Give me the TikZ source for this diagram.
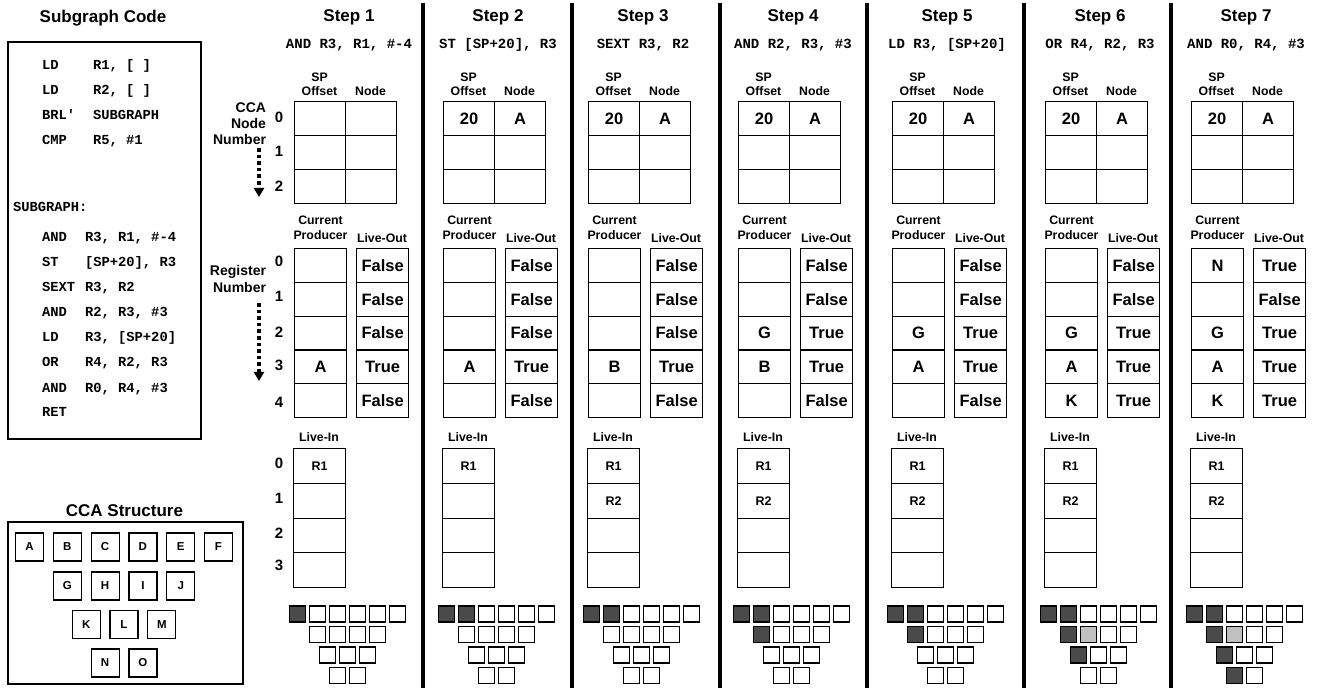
\documentclass[tikz,border=0pt]{standalone}
\usepackage{fontspec}
\setmainfont{Liberation Sans}
\setmonofont{Liberation Mono}
\usetikzlibrary{arrows.meta}
\definecolor{mdark}{HTML}{4A4A4A}
\definecolor{mlight}{HTML}{C0C0C0}
\newcommand\fsz[1]{\fontsize{#1}{#1}\selectfont}
\newcommand\setmc[2]{\expandafter\def\csname mc-#1\endcsname{#2}}
% coloured squares of the mini CCA grids: step-row-k
\setmc{1-0-1}{mdark}
\setmc{2-0-1}{mdark}\setmc{2-0-2}{mdark}
\setmc{3-0-1}{mdark}\setmc{3-0-2}{mdark}
\setmc{4-0-1}{mdark}\setmc{4-0-2}{mdark}\setmc{4-1-1}{mdark}
\setmc{5-0-1}{mdark}\setmc{5-0-2}{mdark}\setmc{5-1-1}{mdark}
\setmc{6-0-1}{mdark}\setmc{6-0-2}{mdark}\setmc{6-1-1}{mdark}\setmc{6-1-2}{mlight}\setmc{6-2-1}{mdark}
\setmc{7-0-1}{mdark}\setmc{7-0-2}{mdark}\setmc{7-1-1}{mdark}\setmc{7-1-2}{mlight}\setmc{7-2-1}{mdark}\setmc{7-3-1}{mdark}
\tikzset{
  txt/.style={inner sep=0pt, outer sep=0pt},
  steptitle/.style={txt, anchor=base, font=\fsz{17}\bfseries},
  ptitle/.style={txt, anchor=base, font=\fsz{17}\bfseries},
  instr/.style={txt, anchor=base, font=\fsz{14}\ttfamily\bfseries},
  code/.style={txt, anchor=base west, font=\fsz{13.8}\ttfamily\bfseries},
  hdr/.style={txt, anchor=base, font=\fsz{12.3}\bfseries},
  lbl/.style={txt, anchor=base east, font=\fsz{14}\bfseries},
  rnum/.style={txt, anchor=base, font=\fsz{15}\bfseries},
  cell/.style={draw, line width=1.2pt, minimum width=51pt, minimum height=34pt, inner sep=0pt, anchor=north west, font=\fsz{16.5}\bfseries},
  licell/.style={cell, minimum width=52pt, minimum height=34.75pt, font=\fsz{12.5}\bfseries},
  mini/.style={draw, line width=1.3pt, minimum size=16pt, inner sep=0pt},
  pbox/.style={draw, line width=1.8pt, inner sep=0pt, anchor=north west},
  ccasq/.style={draw, line width=1.2pt, minimum size=28pt, inner sep=0pt, font=\fsz{11.5}\bfseries},
  sep/.style={line width=4pt},
  dotarrow/.style={line width=3.6pt, dash pattern=on 3.6pt off 3pt, -{Triangle[width=10pt,length=9pt]}},
}
% #1 step, #2 centre x, #3 instruction, #4/#5 SP row 0, #6 producers, #7 live-out, #8 live-in row 1
\newcommand\drawstep[8]{%
  \node[steptitle] (title#1) at (#2,22) {Step #1};
  \node[instr] (instr#1) at (#2,49) {#3};
  \node[hdr] (hsp#1) at (#2-29.5,82) {SP};
  \node[hdr] (hoff#1) at (#2-29.5,96) {Offset};
  \node[hdr] (hnode#1) at (#2+21.5,96) {Node};
  \foreach \r in {0,1,2}{%
    \node[cell] (spa#1-\r) at (#2-55,101+34*\r) {\ifnum\r=0 #4\fi};
    \node[cell] (spb#1-\r) at (#2-4,101+34*\r) {\ifnum\r=0 #5\fi};
  }%
  \node[hdr] (hcur#1) at (#2-28.5,225) {Current};
  \node[hdr] (hprod#1) at (#2-28.5,240) {Producer};
  \node[hdr] (hlo#1) at (#2+33,243) {Live-Out};
  \foreach \v [count=\r from 0] in {#6}{%
    \node[cell, minimum width=52pt, minimum height=33.8pt] (cp#1-\r) at (#2-55,248+33.8*\r) {\v};}%
  \foreach \v [count=\r from 0] in {#7}{%
    \node[cell, minimum width=52pt, minimum height=33.8pt] (lo#1-\r) at (#2+7,248+33.8*\r) {\v};}%
  \node[hdr] (hli#1) at (#2-30,442) {Live-In};
  \foreach \r/\t in {0/R1,1/{#8},2/{},3/{}}{%
    \node[licell] (li#1-\r) at (#2-56,448+34.75*\r) {\t};}%
  \foreach \rr/\nn/\yy in {0/6/614,1/4/634.5,2/3/655,3/2/675.5}{%
    \foreach \kk in {1,...,\nn}{%
      \def\mcol{white}%
      \ifcsname mc-#1-\rr-\kk\endcsname\edef\mcol{\csname mc-#1-\rr-\kk\endcsname}\fi
      \node[mini, fill=\mcol] (m#1-\rr-\kk) at ({#2-1.5-10*(\nn-1)+20*(\kk-1)},\yy) {};
    }%
  }%
}
\begin{document}
\begin{tikzpicture}[x=1pt,y=-1pt]
\useasboundingbox (0,0) rectangle (1320,692);
% ---------- Subgraph code panel
\node[ptitle] (sgtitle) at (103,23) {Subgraph Code};
\node[pbox, minimum width=193pt, minimum height=397pt] (codebox) at (7,41) {};
\foreach \y/\m/\o in {70/LD/{R1, [ ]},95/LD/{R2, [ ]},120/BRL'/SUBGRAPH,145/CMP/{R5, \#1}}{%
  \node[code] (cm\y) at (42,\y) {\m};
  \node[code] (co\y) at (93,\y) {\o};}
\node[code] (sublabel) at (13,212) {SUBGRAPH:};
\foreach \y/\m/\o in {242/AND/{R3, R1, \#-4},267/ST/{[SP+20], R3},292/SEXT/{R3, R2},317/AND/{R2, R3, \#3},342/LD/{R3, [SP+20]},367/OR/{R4, R2, R3},392/AND/{R0, R4, \#3},417/RET/{}}{%
  \node[code] (cm\y) at (42,\y) {\m};
  \node[code] (co\y) at (85,\y) {\o};}
% ---------- CCA structure panel
\node[ptitle] (ccatitle) at (124.5,516) {CCA Structure};
\node[pbox, minimum width=235pt, minimum height=162pt] (ccabox) at (7,521) {};
\foreach \l [count=\k from 0] in {A,B,C,D,E,F} \node[ccasq] (cca\l) at (124+37.8*\k-94.5,547) {\l};
\foreach \l [count=\k from 0] in {G,H,I,J} \node[ccasq] (cca\l) at (124+37.8*\k-56.7,586) {\l};
\foreach \l [count=\k from 0] in {K,L,M} \node[ccasq] (cca\l) at (124+37.8*\k-37.8,624.5) {\l};
\foreach \l [count=\k from 0] in {N,O} \node[ccasq] (cca\l) at (124+37.8*\k-18.9,663) {\l};
% ---------- row labels
\node[lbl] (lcca) at (266,113) {CCA};
\node[lbl] (lnode) at (266,129) {Node};
\node[lbl] (lnum1) at (266,145) {Number};
\node[lbl] (lreg) at (266,276) {Register};
\node[lbl] (lnum2) at (266,293) {Number};
\foreach \t/\y in {0/123,1/157,2/192} \node[rnum] (ns\t) at (279,\y) {\t};
\foreach \t/\y in {0/267,1/302,2/338,3/371,4/407} \node[rnum] (nr\t) at (279,\y) {\t};
\foreach \t/\y in {0/468,1/503,2/538,3/570} \node[rnum] (nl\t) at (279,\y) {\t};
\coordinate (sa) at (259,148); \coordinate (sb) at (259,197);
\coordinate (ra) at (259,303); \coordinate (rb) at (259,381);
\draw[dotarrow] (sa) -- (sb);
\draw[dotarrow] (ra) -- (rb);
% ---------- steps
\drawstep{1}{349}{AND R3, R1, \#-4}{}{}{{},{},{},A,{}}{False,False,False,True,False}{}
\drawstep{2}{498}{ST [SP+20], R3}{20}{A}{{},{},{},A,{}}{False,False,False,True,False}{}
\drawstep{3}{643}{SEXT R3, R2}{20}{A}{{},{},{},B,{}}{False,False,False,True,False}{R2}
\drawstep{4}{793}{AND R2, R3, \#3}{20}{A}{{},{},G,B,{}}{False,False,True,True,False}{R2}
\drawstep{5}{947}{LD R3, [SP+20]}{20}{A}{{},{},G,A,{}}{False,False,True,True,False}{R2}
\drawstep{6}{1100}{OR R4, R2, R3}{20}{A}{{},{},G,A,K}{False,False,True,True,True}{R2}
\drawstep{7}{1246}{AND R0, R4, \#3}{20}{A}{N,{},G,A,K}{True,False,True,True,True}{R2}
% ---------- separators
\foreach \x in {423,572,720,867,1024,1171} \draw[sep] (\x,3) -- (\x,688);
\end{tikzpicture}
\end{document}
